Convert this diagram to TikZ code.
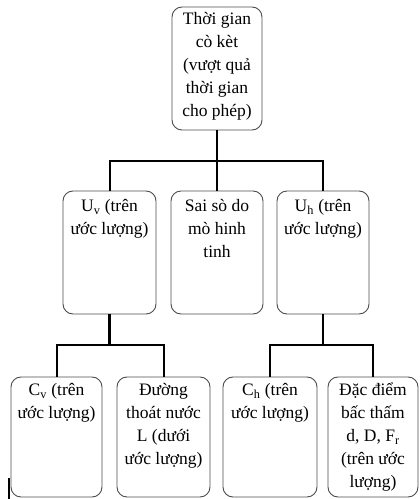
\documentclass[tikz,border=0pt]{standalone}
\usepackage{fontspec}
\setmainfont{Liberation Serif}
\tikzset{
  bx/.style={draw=black!70, line width=0.9pt, rounded corners=10pt, inner sep=0pt},
  txt/.style={anchor=north, align=center, inner sep=0pt, font=\fontsize{17.5}{23}\selectfont},
  trunk/.style={line width=2.8pt, black},
  branch/.style={line width=2pt, black},
}
\begin{document}
\begin{tikzpicture}[x=1pt,y=1pt]
\useasboundingbox (0,0) rectangle (420,499);
% boxes
\node[bx, minimum width=90pt, minimum height=123pt] (top) at (217,430.5) {};
\node[bx, minimum width=93pt, minimum height=123pt] (midL) at (109.5,246.5) {};
\node[bx, minimum width=92pt, minimum height=123pt] (midM) at (217,246.5) {};
\node[bx, minimum width=92pt, minimum height=123pt] (midR) at (323,246.5) {};
\node[bx, minimum width=91pt, minimum height=120pt] (botA) at (56.5,62) {};
\node[bx, minimum width=93pt, minimum height=120pt] (botB) at (163.5,62) {};
\node[bx, minimum width=94pt, minimum height=120pt] (botC) at (270,62) {};
\node[bx, minimum width=90pt, minimum height=120pt] (botD) at (373,62) {};
% texts
\node[txt] (topT) at ([yshift=-2pt]top.north) {\strut Thời gian\\\strut cò kèt\\\strut (vượt quả\\\strut thời gian\\\strut cho phép)};
\node[txt] (midLT) at ([yshift=-5pt]midL.north) {\strut U\textsubscript{v} (trên\\\strut ước lượng)};
\node[txt] (midMT) at ([yshift=-5pt]midM.north) {\strut Sai sò do\\\strut mò hinh\\\strut tinh};
\node[txt] (midRT) at ([yshift=-5pt]midR.north) {\strut U\textsubscript{h} (trên\\\strut ước lượng)};
\node[txt] (botAT) at ([yshift=-3pt]botA.north) {\strut C\textsubscript{v} (trên\\\strut ước lượng)};
\node[txt] (botBT) at ([yshift=-3pt]botB.north) {\strut Đường\\\strut thoát nước\\\strut L (dưới\\\strut ước lượng)};
\node[txt] (botCT) at ([yshift=-3pt]botC.north) {\strut C\textsubscript{h} (trên\\\strut ước lượng)};
\node[txt] (botDT) at ([yshift=-3pt]botD.north) {\strut Đặc điểm\\\strut bấc thấm\\\strut d, D, F\textsubscript{r}\\\strut (trên ước\\\strut lượng)};
% junctions
\coordinate (j1) at (217,338);
\coordinate (j2) at (109.5,154);
\coordinate (j3) at (323,154);
\coordinate (m1) at (9,21);
\coordinate (m2) at (9,0);
% connectors
\draw[trunk] (top.south) -- (j1);
\draw[branch] (midL.north) |- (j1) -| (midR.north);
\draw[branch] (j1) -- (midM.north);
\draw[trunk] (midL.south) -- (j2);
\draw[branch] (botA.north) |- (j2) -| (botB.north);
\draw[trunk] (midR.south) -- (j3);
\draw[branch] (botC.north) |- (j3) -| (botD.north);
\draw[line width=1.8pt] (m1) -- (m2);
\end{tikzpicture}
\end{document}
